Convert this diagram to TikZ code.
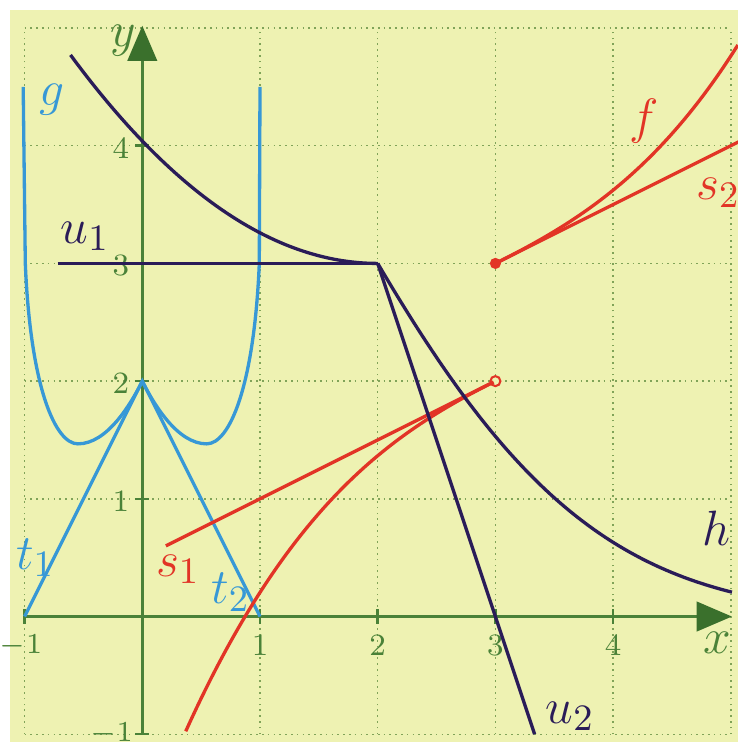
\documentclass[tikz,border=0pt]{standalone}
\usepackage{xcolor}
\usepackage{tikz}
\usetikzlibrary{arrows.meta}

\definecolor{paper}{RGB}{238,242,178}
\definecolor{gridgreen}{RGB}{128,163,88}
\definecolor{axisgreen}{RGB}{74,130,56}
\definecolor{axisdark}{RGB}{58,112,44}
\definecolor{hnavy}{RGB}{42,28,88}
\definecolor{fred}{RGB}{226,52,38}
\definecolor{gblue}{RGB}{55,152,214}

\begin{document}
\begin{tikzpicture}[x=1cm, y=1cm,
    gridline/.style={draw=gridgreen, line width=0.35pt, dash pattern=on 0.4pt off 1pt},
    axis/.style={draw=axisgreen, line width=0.7pt, -{Triangle[length=3mm, width=2.5mm, color=axisdark]}},
    tickmark/.style={draw=axisgreen, line width=0.6pt},
    ticklbl/.style={text=axisgreen, font=\fontsize{7.5}{7.5}\selectfont, inner sep=0pt},
    axislbl/.style={text=axisgreen, font=\fontsize{13}{13}\selectfont, inner sep=0pt},
    curve/.style={line width=0.8pt, line join=round},
    hcurve/.style={curve, draw=hnavy},
    fcurve/.style={curve, draw=fred},
    gcurve/.style={curve, draw=gblue},
    lbl/.style={font=\fontsize{13}{13}\selectfont, inner sep=0pt},
    dotfull/.style={circle, fill=fred, inner sep=0pt, minimum size=0.95mm},
    dotopen/.style={circle, draw=fred, fill=paper, line width=0.5pt, inner sep=0pt, minimum size=0.85mm}]

    \useasboundingbox (-1.209,-1.066) rectangle (5.061,5.238);
    \fill[paper] (-1.128,-1.066) rectangle (5.061,5.157);

    \foreach \k in {-1,...,5} {
        \draw[gridline] (\k,-1) -- (\k,5);
        \draw[gridline] (-1,\k) -- (5,\k);
    }

    \draw[axis] (-1,0) -- (5.01,0);
    \draw[axis] (0,-1) -- (0,5.02);
    \foreach \k in {-1,1,2,3,4} {
        \draw[tickmark] (\k,-0.06) -- (\k,0.06);
        \draw[tickmark] (-0.06,\k) -- (0.06,\k);
    }
    \foreach \k in {1,2,3,4} {
        \node[ticklbl] (xtick\k) at (\k,-0.245) {\k};
        \node[ticklbl, anchor=east] (ytick\k) at (-0.105,\k-0.02) {\k};
    }
    \node[ticklbl] (xtickm) at (-1.03,-0.25) {$-1$};
    \node[ticklbl] (ytickm) at (-0.26,-0.995) {$-1$};
    \node[axislbl] (ylbl) at (-0.16,4.89) {$y$};
    \node[axislbl] (xlbl) at (4.887,-0.22) {$x$};

    % g and its one-sided tangents
    \draw[gcurve] (-1.012,4.5) -- (-0.994,3) .. controls (-0.95,1.95) and (-0.74,1.467) .. (-0.547,1.467)
        .. controls (-0.3,1.467) and (-0.1,1.8) .. (0,2)
        .. controls (0.1,1.8) and (0.3,1.467) .. (0.547,1.467)
        .. controls (0.74,1.467) and (0.95,1.95) .. (0.994,3) -- (1.0,4.5);
    \coordinate (tl) at (-1,0);
    \coordinate (tc) at (0,2);
    \coordinate (tr) at (1,0);
    \draw[gcurve, line join=miter] (tl) -- (tc) -- (tr);

    % f with the jump at 3
    \node[dotopen] (fopen) at (3,2) {};
    \node[dotfull] (fdot) at (3,3) {};
    \coordinate (s1start) at (0.2,0.6);
    \coordinate (s2end) at (5.07,4.035);
    \draw[fcurve] plot[domain=0.369:2.985, samples=60]
        (\x, {2+0.5*(\x-3)-0.069*(3-\x)*(3-\x)-0.0649*(3-\x)*(3-\x)*(3-\x)});
    \draw[fcurve] (s1start) -- (fopen);
    \draw[fcurve] plot[domain=3:5.06, samples=50]
        (\x, {3+0.5*(\x-3)+0.0543*(\x-3)*(\x-3)+0.0681*(\x-3)*(\x-3)*(\x-3)});
    \draw[fcurve] (fdot.center) -- (s2end);

    % h with the corner at 2
    \coordinate (hk) at (2,3);
    \coordinate (u1start) at (-0.72,3);
    \coordinate (u2end) at (3.333,-1);
    \draw[hcurve] plot[domain=-0.61:2, samples=60] (\x, {3+0.26*(2-\x)*(2-\x)});
    \draw[hcurve] plot[domain=2:5.01, samples=60] (\x, {3*exp(-0.566*(\x-2)-0.107*(\x-2)*(\x-2))});
    \draw[hcurve] (u1start) -- (hk);
    \draw[hcurve] (hk) -- (u2end);

    \node[lbl, text=gblue] (glbl) at (-0.77,4.39) {$g$};
    \node[lbl, text=fred] (flbl) at (4.26,4.21) {$f$};
    \node[lbl, text=fred, anchor=base west] (s2lbl) at (4.70,3.54) {$s_2$};
    \node[lbl, text=fred, anchor=base west] (s1lbl) at (0.11,0.34) {$s_1$};
    \node[lbl, text=hnavy, anchor=base west] (u1lbl) at (-0.70,3.17) {$u_1$};
    \node[lbl, text=hnavy, anchor=base west] (u2lbl) at (3.42,-0.907) {$u_2$};
    \node[lbl, text=hnavy, anchor=base west] (hlbl) at (4.75,0.607) {$h$};
    \node[lbl, text=gblue, anchor=base west] (t1lbl) at (-1.08,0.40) {$t_1$};
    \node[lbl, text=gblue, anchor=base west] (t2lbl) at (0.58,0.11) {$t_2$};

\end{tikzpicture}
\end{document}
